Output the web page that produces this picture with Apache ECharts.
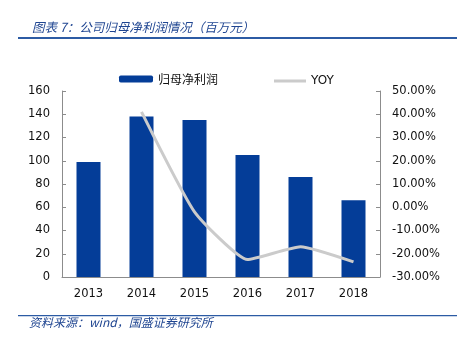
<!DOCTYPE html>
<html><head><meta charset="utf-8">
<script src="https://cdn.jsdelivr.net/npm/echarts@6/dist/echarts.min.js"></script>
<style>html,body{margin:0;padding:0;background:#fff}#c{width:457px;height:340px}</style>
</head><body><div id="c"></div>
<script>
const categories = ['2013','2014','2015','2016','2017','2018'];
const profitValues = [99, 138, 135, 105, 86, 66];
const yoyValues = [null, 41, -2, -22.5, -17, -23.5];
const leftTicks = { min: 0, max: 160, interval: 20 };
const rightTicks = { min: -30, max: 50, interval: 10 };
const titleText = '图表 7：公司归母净利润情况（百万元）';
const sourceText = '资料来源：wind，国盛证券研究所';

const FONT = 'DejaVu Sans';
const chart = echarts.init(document.getElementById('c'), null, {renderer: 'canvas'});
const axisCol = '#8c8c8c';
chart.setOption({
  animation: false,
  backgroundColor: '#fff',
  title: {
    text: titleText, left: 27, top: 16,
    textStyle: {fontSize: 12.5, fontStyle: 'italic', fontWeight: 'normal', color: '#1f4591', fontFamily: 'Noto Sans CJK SC'}
  },
  graphic: [
    {type: 'rect', shape: {x: 18, y: 37, width: 439, height: 2}, style: {fill: '#2c5ba4'}},
    {type: 'rect', shape: {x: 18, y: 315, width: 439, height: 1.3}, style: {fill: '#2c5ba4'}},
    {type: 'text', left: 29, top: 316, style: {text: sourceText, fill: '#1f4591', font: 'italic 12px "Noto Sans CJK SC"'}}
  ],
  legend: [
    {data: ['归母净利润'], left: 114, top: 68, itemWidth: 34, itemHeight: 7, itemGap: 4,
     textStyle: {fontSize: 12, color: '#111', fontFamily: 'Noto Sans CJK SC'}, itemStyle: {borderWidth: 0}},
    {data: [{name: 'YOY', icon: 'rect'}], left: 269, top: 70, itemWidth: 32, itemHeight: 3, itemGap: 2,
     textStyle: {fontSize: 12, color: '#111', fontFamily: FONT}}
  ],
  grid: {left: 62, right: 77, top: 91, bottom: 63, containLabel: false},
  xAxis: {
    type: 'category', data: categories,
    axisLine: {lineStyle: {color: axisCol}},
    axisTick: {inside: true, length: 5, lineStyle: {color: axisCol}},
    axisLabel: {fontSize: 11.5, color: '#111', fontFamily: FONT, margin: 11}
  },
  yAxis: [
    {type: 'value', min: leftTicks.min, max: leftTicks.max, interval: leftTicks.interval,
     splitLine: {show: false},
     axisLine: {show: true, lineStyle: {color: axisCol}},
     axisTick: {show: true, inside: true, length: 4, lineStyle: {color: axisCol}},
     axisLabel: {fontSize: 11.5, color: '#111', fontFamily: FONT, margin: 12}},
    {type: 'value', min: rightTicks.min, max: rightTicks.max, interval: rightTicks.interval,
     splitLine: {show: false},
     axisLine: {show: true, lineStyle: {color: axisCol}},
     axisTick: {show: true, inside: true, length: 4, lineStyle: {color: axisCol}},
     axisLabel: {fontSize: 11.5, color: '#111', fontFamily: FONT, margin: 12,
       formatter: v => v.toFixed(2) + '%'}}
  ],
  series: [
    {name: '归母净利润', type: 'bar', data: profitValues, barWidth: 24,
     itemStyle: {color: '#043d98'}},
    {name: 'YOY', type: 'line', yAxisIndex: 1, data: yoyValues, smooth: 0.15,
     showSymbol: false, symbol: 'none',
     lineStyle: {color: '#cbcbcb', width: 3}, itemStyle: {color: '#cbcbcb'}}
  ]
});
</script></body></html>
